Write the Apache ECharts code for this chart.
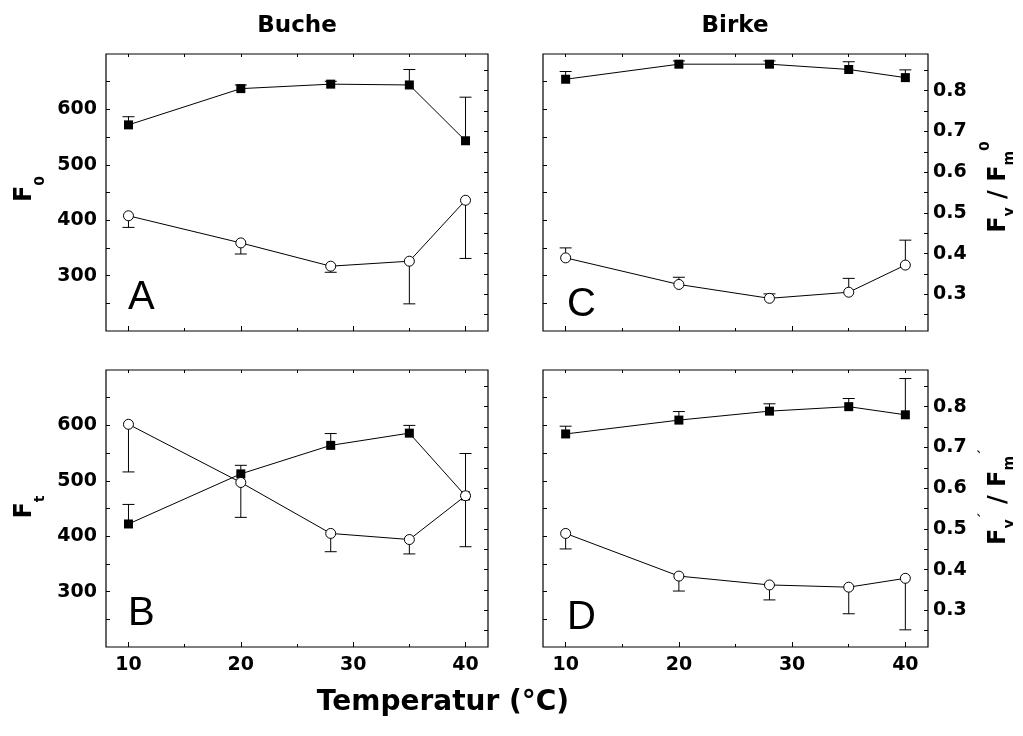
<!DOCTYPE html>
<html><head><meta charset="utf-8">
<script src="https://cdn.jsdelivr.net/npm/echarts@6/dist/echarts.min.js"></script>
<style>html,body{margin:0;padding:0;background:#fff}#c{width:1023px;height:736px}</style>
</head><body><div id="c"></div>
<script>
// ---------- data ----------
const temps = [10, 20, 28, 35, 40];
const xTickLabels = [10, 20, 30, 40];
const xTickMinor = [15, 25, 35];
const xTickAll = [10, 15, 20, 25, 30, 35, 40];
const leftTickLabels = [300, 400, 500, 600];
const leftTicks = [250, 300, 350, 400, 450, 500, 550, 600, 650];
const rightTickLabels = [0.3, 0.4, 0.5, 0.6, 0.7, 0.8];
const rightTicks = [0.25, 0.3, 0.35, 0.4, 0.45, 0.5, 0.55, 0.6, 0.65, 0.7, 0.75, 0.8, 0.85];
const columnTitles = ['Buche', 'Birke'];
const panelLetters = ['A', 'B', 'C', 'D'];

// Buche (beech)
const A_ratio    = [0.716, 0.805, 0.816, 0.814, 0.677];   // Fv/Fm0
const A_ratioErr = [0.020, 0.009, 0.007, 0.038, 0.107];
const A_fluor    = [408, 359, 317, 326, 436];             // F0
const A_fluorErr = [21, 20, 11, 77, 105];
const B_ratio    = [0.512, 0.635, 0.705, 0.735, 0.581];   // Fv'/Fm'
const B_ratioErr = [0.048, 0.021, 0.029, 0.019, 0.104];
const B_fluor    = [602, 497, 405, 394, 473];             // Ft
const B_fluorErr = [86, 63, 33, 26, 92];
// Birke (birch)
const C_ratio    = [0.828, 0.865, 0.865, 0.852, 0.832];
const C_ratioErr = [0.019, 0.008, 0.008, 0.019, 0.019];
const C_fluor    = [332, 284, 259, 270, 319];
const C_fluorErr = [18, 13, 8, 25, 45];
const D_ratio    = [0.733, 0.767, 0.789, 0.800, 0.780];
const D_ratioErr = [0.019, 0.021, 0.018, 0.020, 0.089];
const D_fluor    = [405, 328, 312, 308, 324];
const D_fluorErr = [28, 27, 27, 48, 93];

// ---------- layout ----------
const FONT = '"DejaVu Sans", sans-serif';
const panels = [
  {grid:{left:106, top:54, width:382, height:277}, ratio:A_ratio, rErr:A_ratioErr, rDir:1, fl:A_fluor, fErr:A_fluorErr, fDir:-1, leftLab:true, rightLab:false, xLab:false, letter:[128, 298]},
  {grid:{left:106, top:370, width:382, height:277}, ratio:B_ratio, rErr:B_ratioErr, rDir:1, fl:B_fluor, fErr:B_fluorErr, fDir:-1, leftLab:true, rightLab:false, xLab:true, letter:[128, 614]},
  {grid:{left:543, top:54, width:385, height:277}, ratio:C_ratio, rErr:C_ratioErr, rDir:1, fl:C_fluor, fErr:C_fluorErr, fDir:1, leftLab:false, rightLab:true, xLab:false, letter:[567, 305]},
  {grid:{left:543, top:370, width:385, height:277}, ratio:D_ratio, rErr:D_ratioErr, rDir:1, fl:D_fluor, fErr:D_fluorErr, fDir:-1, leftLab:false, rightLab:true, xLab:true, letter:[567, 618]}
];

const grids = [], xAxes = [], yAxes = [], series = [];
const tickStyle = {color:'#000', width:1};
panels.forEach((p, g) => {
  grids.push(Object.assign({show:true, borderColor:'#000', borderWidth:1.2, backgroundColor:'transparent'}, p.grid));
  // bottom major
  xAxes.push({type:'value', gridIndex:g, position:'bottom', min:8, max:42,
    axisLine:{show:false}, splitLine:{show:false},
    axisTick:{show:true, inside:true, length:5, lineStyle:tickStyle, customValues:xTickLabels},
    axisLabel:{show:p.xLab, customValues:xTickLabels, margin:9, color:'#000', fontFamily:FONT, fontWeight:'bold', fontSize:19}});
  // bottom minor
  xAxes.push({type:'value', gridIndex:g, position:'bottom', min:8, max:42,
    axisLine:{show:false}, splitLine:{show:false},
    axisTick:{show:true, inside:true, length:3, lineStyle:tickStyle, customValues:xTickMinor},
    axisLabel:{show:false}});
  // top
  xAxes.push({type:'value', gridIndex:g, position:'top', min:8, max:42,
    axisLine:{show:false}, splitLine:{show:false},
    axisTick:{show:true, inside:true, length:3, lineStyle:tickStyle, customValues:xTickAll},
    axisLabel:{show:false}});
  yAxes.push({type:'value', gridIndex:g, position:'left', min:200, max:700,
    axisLine:{show:false}, splitLine:{show:false},
    axisTick:{show:true, inside:true, length:4, lineStyle:tickStyle, customValues:leftTicks},
    axisLabel:{show:p.leftLab, customValues:leftTickLabels, margin:9, color:'#000', fontFamily:FONT, fontWeight:'bold', fontSize:19}});
  yAxes.push({type:'value', gridIndex:g, position:'right', min:0.21, max:0.89,
    axisLine:{show:false}, splitLine:{show:false},
    axisTick:{show:true, inside:true, length:4, lineStyle:tickStyle, customValues:rightTicks},
    axisLabel:{show:p.rightLab, customValues:rightTickLabels, margin:5, color:'#000', fontFamily:FONT, fontWeight:'bold', fontSize:19,
      formatter: v => Number(v).toFixed(1)}});

  const mkErr = (yIdx, vals, errs, dir) => ({
    type:'custom', xAxisIndex:g*3, yAxisIndex:g*2+yIdx, z:2, silent:true, clip:false,
    data: temps.map((t,i) => [t, vals[i], errs[i]]),
    renderItem: (params, api) => {
      const x = api.value(0), y = api.value(1), e = api.value(2);
      const p0 = api.coord([x, y]), p1 = api.coord([x, y + dir*e]);
      return {type:'group', children:[
        {type:'line', shape:{x1:p0[0], y1:p0[1], x2:p1[0], y2:p1[1]}, style:{stroke:'#000', lineWidth:1}},
        {type:'line', shape:{x1:p1[0]-6, y1:p1[1], x2:p1[0]+6, y2:p1[1]}, style:{stroke:'#000', lineWidth:1}}
      ]};
    }
  });
  series.push(mkErr(1, p.ratio, p.rErr, p.rDir));
  series.push(mkErr(0, p.fl, p.fErr, p.fDir));
  series.push({type:'line', xAxisIndex:g*3, yAxisIndex:g*2+1, z:3, silent:true,
    data: temps.map((t,i) => [t, p.ratio[i]]),
    symbol:'rect', symbolSize:9, showAllSymbol:true,
    lineStyle:{color:'#000', width:1}, itemStyle:{color:'#000', borderColor:'#000', borderWidth:0}});
  series.push({type:'line', xAxisIndex:g*3, yAxisIndex:g*2, z:3, silent:true,
    data: temps.map((t,i) => [t, p.fl[i]]),
    symbol:'circle', symbolSize:10, showAllSymbol:true,
    lineStyle:{color:'#000', width:1}, itemStyle:{color:'#fff', borderColor:'#000', borderWidth:1}});
});

// ---------- rotated axis names ----------
const mctx = document.createElement('canvas').getContext('2d');
function tw(text, size) { mctx.font = 'bold ' + size + 'px "DejaVu Sans"'; return mctx.measureText(text).width; }
function vlabel(x, cy, tokens) {
  let total = 0;
  tokens.forEach(t => { total += tw(t.t, t.s); });
  let pos = -total / 2;
  const children = [];
  tokens.forEach(t => {
    const w = tw(t.t, t.s);
    children.push({type:'text', x:pos, y:t.dy, style:{text:t.t, font:'bold ' + t.s + 'px ' + FONT, fill:'#000', align:'left', verticalAlign:'middle'}});
    pos += w;
  });
  return {type:'group', x:x, y:cy, rotation:Math.PI/2, children};
}
const BIG = 24, SMALL = 14;
const graphics = [
  {type:'text', x:297, y:26, style:{text:columnTitles[0], font:'bold 23px ' + FONT, fill:'#000', align:'center', verticalAlign:'middle'}},
  {type:'text', x:735, y:26, style:{text:columnTitles[1], font:'bold 23px ' + FONT, fill:'#000', align:'center', verticalAlign:'middle'}},
  {type:'text', x:443, y:703, style:{text:'Temperatur (°C)', font:'bold 28px ' + FONT, fill:'#000', align:'center', verticalAlign:'middle'}},
  vlabel(25, 189, [{t:'F', s:BIG, dy:0}, {t:'0', s:SMALL, dy:15}]),
  vlabel(25, 507, [{t:'F', s:BIG, dy:0}, {t:'t', s:SMALL, dy:15}]),
  vlabel(999, 187, [{t:'F', s:BIG, dy:0}, {t:'v', s:SMALL, dy:10}, {t:' / ', s:BIG, dy:0}, {t:'F', s:BIG, dy:0}, {t:'m', s:SMALL, dy:10}, {t:'0', s:SMALL, dy:-14}]),
  vlabel(999, 497, [{t:'F', s:BIG, dy:0}, {t:'v', s:SMALL, dy:10}, {t:'´', s:SMALL, dy:-14}, {t:' / ', s:BIG, dy:0}, {t:'F', s:BIG, dy:0}, {t:'m', s:SMALL, dy:10}, {t:'´', s:SMALL, dy:-14}])
];
panels.forEach((p, i) => {
  graphics.push({type:'text', x:p.letter[0], y:p.letter[1], style:{text:panelLetters[i], font:'40px "Liberation Sans", Arial, sans-serif', fill:'#000', align:'left', verticalAlign:'middle'}});
});

const chart = echarts.init(document.getElementById('c'), null, {renderer:'canvas'});
chart.setOption({
  animation:false,
  backgroundColor:'#fff',
  grid:grids, xAxis:xAxes, yAxis:yAxes, series:series,
  graphic:graphics
});
</script>
</body></html>
